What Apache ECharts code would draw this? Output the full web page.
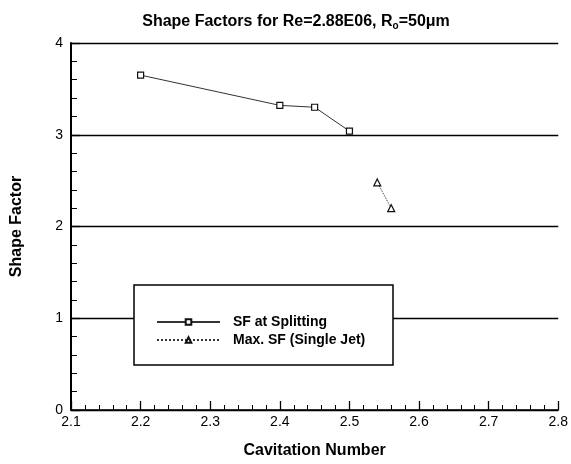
<!DOCTYPE html>
<html>
<head>
<meta charset="utf-8">
<script src="https://cdn.jsdelivr.net/npm/echarts@6/dist/echarts.min.js"></script>
<style>html,body{margin:0;padding:0;background:#fff}#c{width:571px;height:464px}</style>
</head>
<body>
<div id="c"></div>
<script>
const splitX = [2.2, 2.4, 2.45, 2.5];
const splitSF = [3.65, 3.32, 3.30, 3.04];
const jetX = [2.54, 2.56];
const jetSF = [2.48, 2.20];
const seriesNames = ['SF at Splitting', 'Max. SF (Single Jet)'];

const chart = echarts.init(document.getElementById('c'));
const font = 'Liberation Sans, Arial, sans-serif';
chart.setOption({
  backgroundColor: '#fff',
  animation: false,
  title: {
    text: 'Shape Factors for Re=2.88E06, R{sub|o}=50\u03bcm',
    left: 291, top: 8, textAlign: 'center',
    textStyle: {
      fontFamily: font, fontSize: 16, fontWeight: 'bold', color: '#000',
      rich: { sub: { fontFamily: font, fontSize: 10, fontWeight: 'bold', color: '#000', padding: [8, 0, 0, 0] } }
    }
  },
  grid: { left: 71, right: 10, top: 43, bottom: 46 },
  xAxis: {
    type: 'value', min: 2.1, max: 2.8, interval: 0.1,
    name: 'Cavitation Number', nameLocation: 'middle', nameGap: 33,
    nameTextStyle: { fontFamily: font, fontSize: 16, fontWeight: 'bold', color: '#000' },
    axisLine: { lineStyle: { color: '#000', width: 1.5 } },
    axisTick: { inside: true, length: 9, lineStyle: { color: '#000', width: 1.3 } },
    minorTick: { show: true, splitNumber: 5, length: 5, lineStyle: { color: '#000', width: 1 } },
    axisLabel: { fontFamily: font, fontSize: 14, color: '#000', margin: 5, formatter: v => v.toFixed(1) },
    splitLine: { show: false }
  },
  yAxis: {
    type: 'value', min: 0, max: 4, interval: 1,
    name: 'Shape Factor', nameLocation: 'middle', nameGap: 46,
    nameTextStyle: { fontFamily: font, fontSize: 16, fontWeight: 'bold', color: '#000' },
    axisLine: { show: true, lineStyle: { color: '#000', width: 2 } },
    axisTick: { show: true, inside: true, length: 9, lineStyle: { color: '#000', width: 1.3 } },
    minorTick: { show: true, splitNumber: 5, length: 6, lineStyle: { color: '#000', width: 1 } },
    axisLabel: { fontFamily: font, fontSize: 14, color: '#000', margin: 8 },
    splitLine: { show: true, lineStyle: { color: '#000', width: 1.3 } }
  },
  graphic: [{
    type: 'rect', z: 3,
    shape: { x: 134, y: 285, width: 259, height: 80 },
    style: { fill: '#fff', stroke: '#000', lineWidth: 1.5 }
  }],
  legend: {
    left: 151, top: 310, orient: 'vertical', z: 10,
    itemWidth: 63, itemHeight: 7, itemGap: 4,
    data: seriesNames,
    textStyle: { fontFamily: font, fontSize: 14, fontWeight: 'bold', color: '#000', padding: [0, 0, 0, 8] }
  },
  series: [
    {
      name: seriesNames[0], type: 'line',
      data: splitX.map((x, i) => [x, splitSF[i]]),
      symbol: 'rect', symbolSize: 6,
      itemStyle: { color: '#fff', borderColor: '#111', borderWidth: 1.2 },
      lineStyle: { color: '#333', width: 1 }
    },
    {
      name: seriesNames[1], type: 'line',
      data: jetX.map((x, i) => [x, jetSF[i]]),
      symbol: 'triangle', symbolSize: 7,
      itemStyle: { color: '#fff', borderColor: '#111', borderWidth: 1.2 },
      lineStyle: { color: '#333', width: 1, type: 'dotted' }
    }
  ]
});
</script>
</body>
</html>
